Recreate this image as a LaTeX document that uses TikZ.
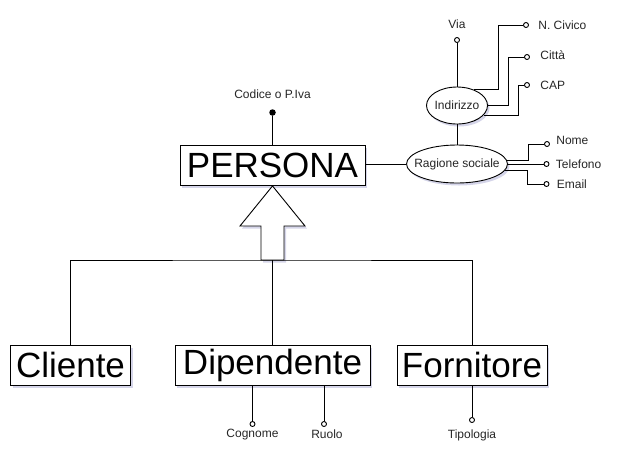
\documentclass[tikz,border=0pt]{standalone}
\usepackage{fontspec}
\setmainfont{Liberation Sans}
\usepackage{xcolor}
\usepackage{tikz}
\usetikzlibrary{shapes.geometric, arrows.meta, positioning, calc, shadows}

\begin{document}
\begin{tikzpicture}[x=1pt, y=-1pt, line width=0.9pt,
    softshadow/.style={drop shadow={shadow xshift=2pt, shadow yshift=-2.5pt, opacity=0.25, fill=blue!30!gray}},
    entbox/.style={draw, fill=white, inner sep=0pt, minimum height=40pt, font=\fontsize{35}{35}\selectfont, softshadow},
    relell/.style={ellipse, draw, fill=white, inner sep=0pt, minimum height=38pt, font=\fontsize{12}{12}\selectfont, text=black!85, softshadow},
    attr/.style={circle, draw, fill=white, inner sep=0pt, minimum size=5pt},
    keyattr/.style={circle, fill=black, inner sep=0pt, minimum size=6.5pt},
    lbl/.style={inner sep=0pt, font=\fontsize{12}{12}\selectfont, text=black!85}]

    \useasboundingbox (0,0) rectangle (629,467);

    % Entities
    \node[entbox, minimum width=185pt] (persona) at (272.5,165.5) {PERSONA};
    \node[entbox, minimum width=120pt] (cliente) at (70.5,365) {Cliente};
    \node[entbox, minimum width=195pt] (dipendente) at (272.5,365) {Dipendente};
    \node[entbox, minimum width=150pt] (fornitore) at (472,365) {Fornitore};

    % Generalization arrow
    \draw[fill=white, softshadow] (persona.south) -- (305,226) -- (284,226) -- (284,260)
        -- (261,260) -- (261,226) -- (240,226) -- cycle;
    \coordinate (hub) at (272.5,260);
    \draw (cliente) |- (hub) -| (fornitore);
    \draw (hub) -- (dipendente);

    % Key attribute
    \node[keyattr] (codice) at (272.5,112.5) {};
    \node[lbl, above=10pt of codice] (codicetxt) {Codice o P.Iva};
    \draw (codice) -- (persona);

    % Ragione sociale and Indirizzo
    \node[relell, inner xsep=-7pt, minimum width=100pt] (ragione) at (457,164) {Ragione sociale};
    \node[relell, inner xsep=-1pt, minimum width=61pt, minimum height=37pt] (indirizzo) at (457,105.5) {Indirizzo};
    \draw (persona.east |- ragione) -- (ragione);
    \draw (indirizzo) -- (ragione);

    % Indirizzo attributes
    \node[attr] (via) at (457,40) {};
    \node[attr] (civico) at (526,25) {};
    \node[attr] (citta) at (527,57) {};
    \node[attr] (cap) at (527,85) {};
    \node[lbl, above=7.5pt of via] (viatxt) {Via};
    \node[lbl, right=9pt of civico] (civicotxt) {N. Civico};
    \node[lbl, right=10pt of citta, yshift=1.5pt] (cittatxt) {Città};
    \node[lbl, right=10pt of cap] (captxt) {CAP};
    \draw (via) -- (indirizzo);
    \draw (indirizzo.43) -| ([xshift=-28pt]civico.center) -- (civico);
    \draw (indirizzo.east) -| ([xshift=-19pt]citta.center) -- (citta);
    \draw (indirizzo.-20) -| ([xshift=-9pt]cap.center) -- (cap);

    % Ragione sociale attributes
    \node[attr] (nome) at (547,144) {};
    \node[attr] (telefono) at (546.5,164) {};
    \node[attr] (email) at (546.5,184) {};
    \node[lbl, right=6pt of nome, yshift=4pt] (nometxt) {Nome};
    \node[lbl, right=6pt of telefono] (telefonotxt) {Telefono};
    \node[lbl, right=7pt of email] (emailtxt) {Email};
    \draw (ragione.4) -| ([xshift=-19pt]nome.center) -- (nome);
    \draw (ragione) -- (telefono);
    \draw (ragione.-7) -| ([xshift=-19pt]email.center) -- (email);

    % Subclass attributes
    \node[attr] (cognome) at (252.5,424) {};
    \node[attr] (ruolo) at (324,424) {};
    \node[attr] (tipologia) at (472,420) {};
    \node[lbl, below=2pt of cognome] (cognometxt) {Cognome};
    \node[lbl, below=2pt of ruolo, xshift=3pt] (ruolotxt) {Ruolo};
    \node[lbl, below=6pt of tipologia] (tipologiatxt) {Tipologia};
    \draw (dipendente.south -| cognome) -- (cognome);
    \draw (dipendente.south -| ruolo) -- (ruolo);
    \draw (fornitore) -- (tipologia);
\end{tikzpicture}
\end{document}
